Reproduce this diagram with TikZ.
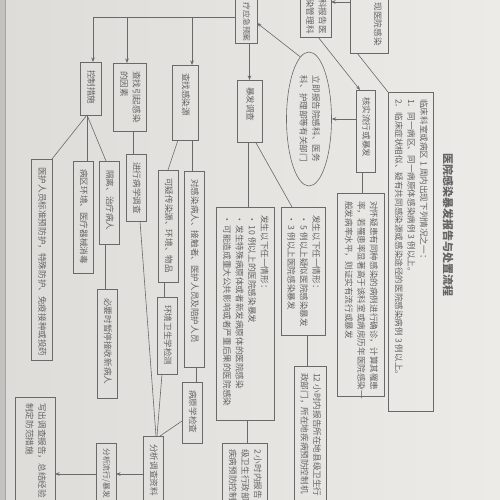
\documentclass[tikz,border=0pt]{standalone}
\usepackage{fontspec}
\usepackage{graphicx}
\newfontfamily\cjk{Noto Sans CJK SC}
\usetikzlibrary{arrows.meta,shapes.geometric,calc}
\definecolor{paper}{RGB}{222,220,216}
\definecolor{paperR}{RGB}{236,235,232}
\definecolor{ink}{RGB}{100,100,100}
\definecolor{linec}{RGB}{105,105,105}
\newcommand\vt[1]{\rotatebox{-90}{\begin{tabular}{@{}l@{}}#1\end{tabular}}}
\newcommand\bx[5]{\node[box,minimum width={(#4-#2)*1pt},minimum height={(#5-#3)*1pt}] (#1) at ({(#2+#4)/2},{(#3+#5)/2}) {};}
\newcommand\tx[3]{\node[txt,anchor=north] (#1t) at ([yshift=-#2pt]#1.north) {\vt{#3}};}
\begin{document}
\begin{tikzpicture}[x=1pt,y=-1pt,
 box/.style={draw=linec,line width=0.6pt,inner sep=0pt,outer sep=0pt},
 txt/.style={inner sep=0pt,text=ink,font=\cjk\fontsize{8.6}{12.5}\selectfont},
 small/.style={font=\cjk\fontsize{7.8}{12.5}\selectfont},
 conn/.style={draw=linec,line width=0.6pt},
 arr/.style={conn,-{Stealth[length=4.5pt,width=3.5pt]}}]
\useasboundingbox (0,0) rectangle (500,500);
\shade[left color=paper,right color=paperR] (0,0) rectangle (500,500);
\clip (0,0) rectangle (500,500);
\fill[paper!88!black] (0,0) rectangle (5,500);
\draw[linec!60] (5,0) -- (5,500);
% top-right boxes
\bx{yygr}{350}{-30}{388}{53}
\node[txt,anchor=south] (yygrt) at ([xshift=8pt,yshift=7pt]yygr.south) {\vt{现医院感染}};
\bx{bgyg}{300}{-30}{331}{37}
\node[txt,anchor=south] (bgygt) at ([yshift=3pt]bgyg.south) {\vt{科报告医\\染管理科}};
\bx{yjya}{235}{-30}{257}{43}
\node[txt,small,anchor=south] (yjyat) at ([yshift=1pt]yjya.south) {\vt{疗应急预案}};
\bx{bfdc}{237}{80}{262}{142} \tx{bfdc}{7}{暴发调查}
\bx{kzcs}{80}{62}{101}{115} \tx{kzcs}{8}{控制措施}
\bx{czys}{113}{63}{146}{131} \tx{czys}{8}{查找引起感染\\的因素}
\bx{czgr}{172}{65}{198}{140} \tx{czgr}{8}{查找感染源}
\bx{yhry}{31}{159}{52}{360} \tx{yhry}{8}{医护人员标准预防护，特殊防护、免疫接种或投药}
\bx{bqhj}{73}{161}{93}{273} \tx{bqhj}{8}{病区环境、医疗器械消毒}
\bx{glzl}{99}{161}{119}{244} \tx{glzl}{9}{隔离、治疗病人}
\bx{jxbx}{126}{154}{146}{221} \tx{jxbx}{8}{进行病学调查}
\bx{kycr}{158}{170}{178}{282} \tx{kycr}{8}{可疑传染源、环境、物品}
\bx{dgrb}{184}{171}{204}{367} \tx{dgrb}{8}{对感染病人、接触者、医护人员及陪护人员}
\bx{byjc}{97}{289}{117}{398} \tx{byjc}{9}{必要时暂停接收新病人}
\bx{hjws}{157}{297}{177}{374} \tx{hjws}{8}{环境卫生学检测}
\bx{byxj}{182}{382}{202}{443} \tx{byxj}{8}{病原学检查}
\bx{fxdc}{143}{436}{163}{530} \tx{fxdc}{8}{分析调查资料}
\bx{fxlx}{96}{443}{116}{530}
\node[txt,small,anchor=north] (fxlxt) at ([yshift=-5pt]fxlx.north) {\vt{分析流行/暴发}};
\bx{xcdc}{15}{397}{55}{530} \tx{xcdc}{6}{写出调查报告，总结经验\\制定防范措施}
\bx{hsbf}{356}{90}{375}{172} \tx{hsbf}{7}{核实流行或暴发}
\node[ellipse,draw=linec,line width=0.6pt,minimum width=45pt,minimum height=134pt,inner sep=0pt] (ell) at (309,119) {};
\node[txt] (ellt) at (ell.center) {\vt{立即报告院感科、医务\\科、护理部等有关部门}};
\bx{qzbl}{337}{193}{384}{396} \tx{qzbl}{8}{对怀疑患有同种感染的病例进行确诊，计算其罹患\\率，若罹患率显著高于该科室或病房历年医院感染一\\般发病率水平，则证实有流行或暴发}
\bx{crit}{388}{92}{433}{411} \tx{crit}{7}{临床科室或病区 1 周内出现下列情况之一：\\1．同一病区、同一病原体感染病例 3 例以上。\\2．临床症状相似、疑有共同感染源或感染途径的医院感染病例 3 例以上。}
\node[txt,font=\cjk\bfseries\fontsize{11}{13}\selectfont,anchor=north] (title) at (448,153) {\rotatebox{-90}{医院感染暴发报告与处置流程}};
\bx{b10}{216}{207}{274}{420} \tx{b10}{8}{发生以下任一情形：\\• 10 例以上的医院感染暴发\\• 发生特殊病原体或者新发病原体的医院感染\\• 可能造成重大公共影响或者严重后果的医院感染}
\bx{b5}{281}{207}{325}{335} \tx{b5}{8}{发生以下任一情形：\\• 5 例以上疑似医院感染暴发\\• 3 例以上医院感染暴发}
\bx{r2h}{222}{443}{267}{530} \tx{r2h}{6}{2 小时内报告\\级卫生行政部\\疾病预防控制}
\bx{r12h}{294}{366}{326}{530} \tx{r12h}{7}{12 小时内报告所在地县级卫生行\\政部门，所在地疾病预防控制机}
% connectors
\coordinate (bus) at (0,17);
\coordinate (top2) at (0,2);
\coordinate (ay) at (0,474);
\draw[conn] (yjya.west |- bus) -- ([xshift=2.5pt]kzcs.north |- bus);
\draw[arr] ([xshift=2.5pt]kzcs.north |- bus) -- ([xshift=2.5pt]kzcs.north);
\draw[arr] ([xshift=-2.5pt]czys.north |- bus) -- ([xshift=-2.5pt]czys.north);
\draw[arr] ([xshift=7pt]czgr.north |- bus) -- ([xshift=7pt]czgr.north);
\draw[arr] (bfdc.north |- yjya.south) -- (bfdc.north);
\coordinate (kb) at ([xshift=-3.5pt]kzcs.south);
\draw[conn] (kb) -- (yhry.north east);
\draw[conn] (kb) -- (kb |- bqhj.north);
\draw[conn] (kb) -- ([xshift=7pt]glzl.north west);
\draw[conn] ([xshift=3.5pt]czys.south) -- ([xshift=3.5pt]czys.south |- jxbx.north);
\draw[conn] ([xshift=-7pt]czgr.south) -- (kycr.north);
\draw[conn] ([xshift=7pt]czgr.south) -- ([xshift=7pt]czgr.south |- dgrb.north);
\draw[conn] ([xshift=-4pt]glzl.south) -- ([xshift=-4pt]glzl.south |- byjc.north);
\draw[conn] ([xshift=4pt]jxbx.south) -- ([xshift=3pt]fxdc.north);
\draw[conn] ([xshift=-4pt]kycr.south) -- ([xshift=-4pt]kycr.south |- hjws.north);
\draw[conn] ([xshift=-5pt]hjws.south) -- ([xshift=4pt]fxdc.north);
\draw[conn] ([xshift=2pt]dgrb.south) -- ([xshift=2pt]dgrb.south |- byxj.north);
\draw[conn] ([yshift=-8.5pt]byxj.west) -- ([xshift=-3pt]fxdc.north east);
\draw[arr] (fxdc.west |- ay) -- (fxlx.east |- ay);
\draw[arr] (fxlx.west |- ay) -- (xcdc.east |- ay);
\draw[conn] ([xshift=-1.5pt]bfdc.south) -- ([xshift=-1.5pt]bfdc.south |- b10.north);
\draw[conn] ([xshift=6pt]bfdc.south) -- ([xshift=-11pt]b5.north);
\draw[conn] ([xshift=2pt]b10.south) -- ([xshift=2pt]b10.south |- r2h.north);
\draw[conn] ([xshift=4pt]b5.south) -- ([xshift=4pt]b5.south |- r12h.north);
\draw[conn] ([xshift=-3.5pt]hsbf.south) -- ([xshift=-3.5pt]hsbf.south |- qzbl.north);
\draw[arr] (hsbf.west |- ell.east) -- (ell.east);
\draw[arr] (ell.98) -- ([yshift=-16.5pt]yjya.east);
\draw[arr] ([xshift=2.5pt]bgyg.south) -- ([xshift=-5.5pt]hsbf.north);
\draw[conn] ([xshift=7pt]yygr.south west) -- (crit.north west);
\draw[arr] (yygr.west |- top2) -- (bgyg.east |- top2);
\end{tikzpicture}
\end{document}
